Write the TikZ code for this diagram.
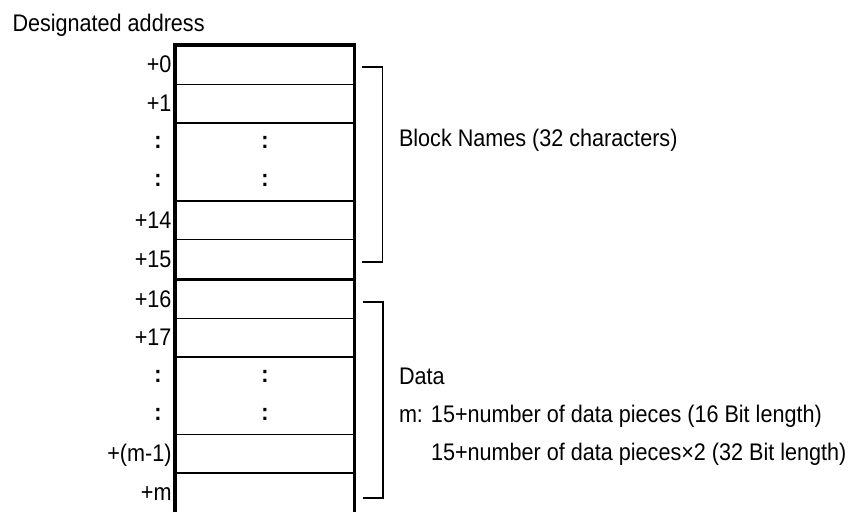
\documentclass[tikz,border=0pt]{standalone}
\usepackage{fontspec}
\setmainfont{Liberation Sans}[FakeStretch=0.9]
\begin{document}
\begin{tikzpicture}[x=0.75pt,y=-0.75pt,
  txt/.style={font=\fontsize{18}{21}\selectfont, inner sep=0pt, outer sep=0pt},
  lbl/.style={txt, anchor=base east},
  rtxt/.style={txt, anchor=base west},
  dots/.style={txt, font=\fontsize{18}{21}\selectfont\bfseries, anchor=base},
  thinline/.style={line width=1.15pt},
  thickline/.style={line width=2.6pt},
  brk/.style={line width=0.85pt}]
\useasboundingbox (0,0) rectangle (853,512);
% title
\node[rtxt] (title) at (12.5,31.7) {Designated address};
% inner row separators
\foreach \yy in {84.5,123,201,239.5,318.5,357,434.5,473}
  \draw[thinline] (175,\yy) -- (354.5,\yy);
% thick outline
\draw[thickline] (175,512) -- (175,45) -- (354.5,45) -- (354.5,512);
\draw[thickline] (175,279.5) -- (354.5,279.5);
% labels
\node[lbl] (l0) at (171.5,72.5) {+0};
\node[lbl] (l1) at (171.5,111.5) {+1};
\node[dots] (d1a) at (158,148) {:};
\node[dots] (d1b) at (265,148) {:};
\node[dots] (d2a) at (158,186.5) {:};
\node[dots] (d2b) at (265,186.5) {:};
\node[lbl] (l14) at (171.5,228.5) {+14};
\node[lbl] (l15) at (171.5,267.5) {+15};
\node[lbl] (l16) at (171.5,307) {+16};
\node[lbl] (l17) at (171.5,345.5) {+17};
\node[dots] (d3a) at (158,382) {:};
\node[dots] (d3b) at (265,382) {:};
\node[dots] (d4a) at (158,420.5) {:};
\node[dots] (d4b) at (265,420.5) {:};
\node[lbl] (lm1) at (171.5,461.5) {+(m-1)};
\node[lbl] (lm) at (171.5,500.5) {+m};
% brackets
\coordinate (b1a) at (362,67);
\coordinate (b1b) at (382.5,67);
\coordinate (b1c) at (382.5,262);
\coordinate (b1d) at (362,262);
\draw[brk] (b1a) -- (b1b) -- (b1c) -- (b1d);
\coordinate (b2a) at (363,302);
\coordinate (b2b) at (383,302);
\coordinate (b2c) at (383,498);
\coordinate (b2d) at (363,498);
\draw[brk] (b2a) -- (b2b) -- (b2c) -- (b2d);
% right texts
\node[rtxt] (blk) at (399,146.7) {Block Names (32 characters)};
\node[rtxt] (data) at (399,384) {Data};
\node[rtxt] (m1) at (399,422) {m: 15+number of data pieces (16 Bit length)};
\node[rtxt] (m2) at (399,460) {\phantom{m: }15+number of data pieces\texttimes 2 (32 Bit length)};
\end{tikzpicture}
\end{document}
